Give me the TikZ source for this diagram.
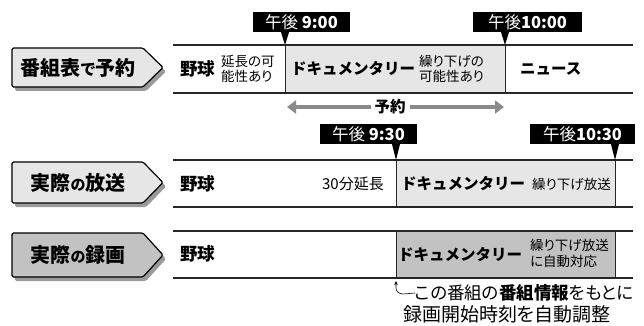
\documentclass[tikz,border=0pt]{standalone}
\usepackage{fontspec}
\setmainfont{Noto Sans CJK JP}[RawFeature=+palt]
\newfontfamily\jpfull{Noto Sans CJK JP}
\usetikzlibrary{arrows.meta,calc}
\definecolor{lgray}{HTML}{E6E6E6}
\definecolor{mgray}{HTML}{C2C2C2}
\definecolor{sgray}{HTML}{9A9A9A}
\definecolor{agray}{HTML}{8A8A8A}
\tikzset{
  bandline/.style={line width=1.3pt, draw=black!85},
  sepline/.style={line width=0.7pt, draw=black!85},
  tlabel/.style={fill=black, text=white, inner xsep=2pt, inner ysep=0pt, minimum height=20pt, font=\fontsize{16.5}{16.5}\selectfont},
  bigtxt/.style={font=\fontsize{17.5}{18}\selectfont\bfseries, inner sep=0pt},
  midtxt/.style={font=\jpfull\fontsize{15.5}{16}\selectfont\bfseries, inner sep=0pt},
  smalltxt/.style={font=\fontsize{13.5}{15}\selectfont, inner sep=0pt, align=left},
  tagtxt/.style={font=\fontsize{20}{21}\selectfont\bfseries, inner sep=0pt},
  notetxt/.style={inner sep=0pt, anchor=west}
}
\newcommand\tagshape[4]{% y0, y1, fill, name
  \pgfmathsetmacro\ymid{(#1+#2)/2}
  \fill[sgray, rounded corners=1.5pt] (15,#1+4) -- (146,#1+4) -- (166,\ymid+4) -- (146,#2+4) -- (15,#2+4) -- cycle;
  \draw[line width=1.2pt, fill=#3, rounded corners=1.5pt] (12,#1) -- (143,#1) -- (163,\ymid) -- (143,#2) -- (12,#2) -- cycle;
  \coordinate (#4) at (78,\ymid);
}
\begin{document}
\begin{tikzpicture}[x=1pt,y=-1pt]
\useasboundingbox (0,0) rectangle (644,326);

% ---------- left tags ----------
\tagshape{48}{87}{lgray}{tag1c}
\tagshape{162}{203}{lgray}{tag2c}
\tagshape{233}{277}{mgray}{tag3c}
\node[tagtxt] (tag1) at (tag1c) {番組表{\fontsize{16}{16}\selectfont で}予約};
\node[tagtxt] (tag2) at (tag2c) {実際{\fontsize{15}{15}\selectfont の}放送};
\node[tagtxt] (tag3) at (tag3c) {実際{\fontsize{15}{15}\selectfont の}録画};

% ---------- row 1 ----------
\fill[lgray] (285,45) rectangle (505,93);
\draw[bandline] (173,45) -- (633,45);
\draw[bandline] (173,93) -- (633,93);
\coordinate (p900) at (285,45);
\coordinate (p1000) at (505,45);
\draw[sepline] (p900) -- (285,93);
\draw[sepline] (p1000) -- (505,93);
\node[bigtxt, anchor=west] (r1a) at (180,69) {野球};
\node[smalltxt, anchor=west] (r1b) at (221,69) {延長の可\\能性あり};
\node[midtxt, anchor=west] (r1c) at (291,69) {ドキュメンタリー};
\node[smalltxt, anchor=west] (r1d) at (419,69) {繰り下げの\\可能性あり};
\node[midtxt, anchor=west] (r1e) at (520,69) {ニュース};

\node[tlabel, minimum width=97pt] (t900) at (301.5,22) {午後 {\bfseries 9:00}};
\node[tlabel, minimum width=109pt] (t1000) at (527.5,22) {午後{\bfseries 10:00}};
\fill (p900) -- ([xshift=-4pt]p900 |- t900.south) -- ([xshift=4pt]p900 |- t900.south) -- cycle;
\fill (p1000) -- ([xshift=-4pt]p1000 |- t1000.south) -- ([xshift=4pt]p1000 |- t1000.south) -- cycle;

% reservation arrow
\coordinate (ra) at (287,107);
\coordinate (rb) at (504,107);
\draw[agray, line width=3.2pt, {Triangle[length=9pt,width=13pt]}-{Triangle[length=9pt,width=13pt]}] (ra) -- (rb);
\node[fill=white, inner xsep=4pt, inner ysep=1pt, font=\fontsize{15.5}{15.5}\selectfont\bfseries] (yoyaku) at ($(ra)!0.475!(rb)$) {予約};

% ---------- row 2 ----------
\fill[lgray] (396,160) rectangle (615,207);
\draw[bandline] (173,160) -- (633,160);
\draw[bandline] (173,207) -- (633,207);
\coordinate (p930) at (396,160);
\coordinate (p1030) at (615,160);
\draw[sepline] (p930) -- (396,207);
\draw[sepline] (p1030) -- (615,207);
\node[bigtxt, anchor=west] (r2a) at (180,184) {野球};
\node[font=\fontsize{15}{15}\selectfont, inner sep=0pt, anchor=east] (r2b) at (384,184) {30分延長};
\node[midtxt, anchor=west] (r2c) at (401,184) {ドキュメンタリー};
\node[font=\fontsize{13.5}{13.5}\selectfont, inner sep=0pt, anchor=east] (r2d) at (611,184.5) {繰り下げ放送};

\node[tlabel, minimum width=97pt] (t930) at (368.5,134) {午後 {\bfseries 9:30}};
\node[tlabel, minimum width=105pt] (t1030) at (582.5,134) {午後{\bfseries 10:30}};
\fill (p930) -- ([xshift=-4pt]p930 |- t930.south) -- ([xshift=4pt]p930 |- t930.south) -- cycle;
\fill (p1030) -- ([xshift=-4pt]p1030 |- t1030.south) -- ([xshift=4pt]p1030 |- t1030.south) -- cycle;

% ---------- row 3 ----------
\fill[mgray] (396,231) rectangle (615,278);
\draw[bandline] (173,231) -- (633,231);
\draw[bandline] (173,278) -- (633,278);
\draw[sepline] (396,231) -- (396,278);
\draw[sepline] (615,231) -- (615,278);
\node[bigtxt, anchor=west] (r3a) at (180,254) {野球};
\node[midtxt, anchor=west] (r3c) at (398,254.5) {ドキュメンタリー};
\node[smalltxt, anchor=east, font=\fontsize{13.5}{15.5}\selectfont] (r3d) at (609,253.5) {繰り下げ放送\\に自動対応};

% ---------- note ----------
\node[notetxt, font=\fontsize{17.5}{18}\selectfont] (note1) at (415,293) {この番組の{\bfseries 番組情報}をもとに};
\node[notetxt, font=\fontsize{19}{19}\selectfont] (note2) at (403,314) {録画開始時刻を自動調整};
\coordinate (hooktip) at (396,281);
\draw[line width=0.6pt, -{Stealth[length=4pt,width=3.5pt]}] (note1.west) -- (403,294) to[out=180,in=270] (396,288) -- (hooktip);
\end{tikzpicture}
\end{document}
